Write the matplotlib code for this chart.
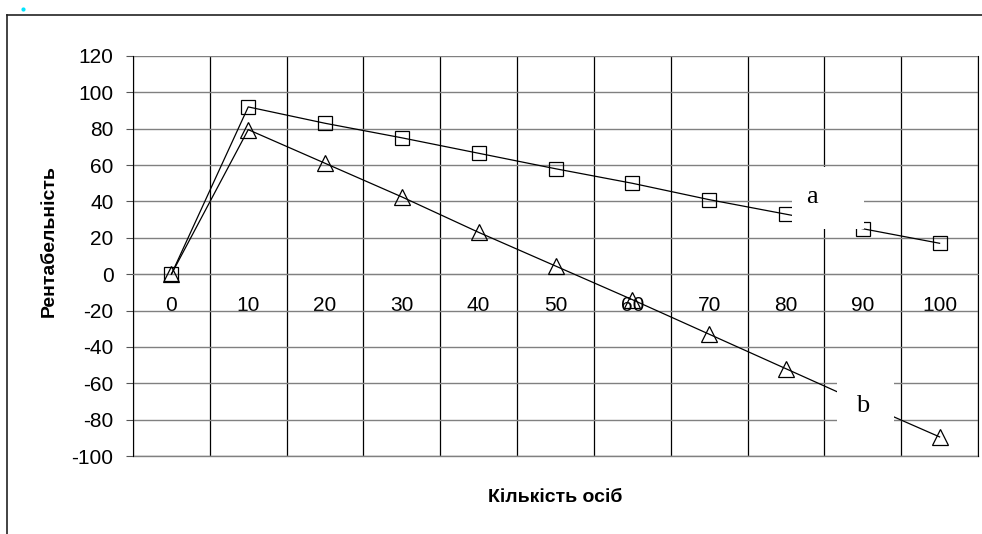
import matplotlib.pyplot as plt
from matplotlib.patches import Rectangle
from matplotlib.lines import Line2D

plt.rcParams['font.family'] = ['Liberation Sans', 'DejaVu Sans']

# data
people = [0, 10, 20, 30, 40, 50, 60, 70, 80, 90, 100]
series_a = [0, 92, 83, 75, 66.5, 58, 50, 41, 33, 25, 17]
series_b = [0, 79.5, 61, 42.5, 23, 4.5, -14, -33, -52, -71, -89.5]
y_ticks = [-100, -80, -60, -40, -20, 0, 20, 40, 60, 80, 100, 120]

W, H = 982, 534
fig = plt.figure(figsize=(W / 100, H / 100), dpi=100)
ax = fig.add_axes([133 / W, 78 / H, 845 / W, 400 / H])

# x axis crosses at 0 (set before ticks, it resets them)
ax.spines['bottom'].set_position(('data', 0))
ax.spines['bottom'].set_color('#808080')
ax.spines['top'].set_visible(False)
ax.spines['left'].set_color('black')
ax.spines['right'].set_color('black')

pos = list(range(len(people)))
ax.plot(pos, series_a, color='black', lw=0.9, marker='s', ms=10,
        mfc='none', mec='black', mew=0.9, zorder=3)
ax.plot(pos, series_b, color='black', lw=0.9, marker='^', ms=11,
        mfc='none', mec='black', mew=0.9, zorder=3)

ax.set_xlim(-0.5, len(people) - 0.5)
ax.set_ylim(-100, 120)

# y axis
ax.set_yticks(y_ticks)
ax.set_yticklabels([str(v) for v in y_ticks])
ax.tick_params(axis='y', length=5, width=0.8, pad=9, color='#555555', labelsize=15)
ax.yaxis.grid(True, color='#808080', lw=1.0)
ax.axhline(-100, color='#808080', lw=1.0, clip_on=False, zorder=1)

# x axis
ax.set_xticks(pos)
ax.set_xticklabels([str(p) for p in people])
ax.set_xticks([p - 0.5 for p in range(len(people) + 1)], minor=True)
ax.tick_params(axis='x', which='both', length=0, pad=16, labelsize=15)
ax.xaxis.grid(True, which='minor', color='black', lw=0.9)
ax.xaxis.grid(False, which='major')
ax.set_axisbelow(True)
for lbl in ax.get_xticklabels():
    lbl.set_zorder(5)

# series labels on white boxes
ax.add_patch(Rectangle((0.780, 0.568), 0.085, 0.155, transform=ax.transAxes,
                       facecolor='white', edgecolor='none', zorder=4))
ax.text(0.8035, 0.647, 'a', transform=ax.transAxes, ha='center', va='center',
        fontsize=19, family='Liberation Serif', zorder=5)
ax.add_patch(Rectangle((0.833, 0.04), 0.0675, 0.17, transform=ax.transAxes,
                       facecolor='white', edgecolor='none', zorder=4))
ax.text(0.8635, 0.125, 'b', transform=ax.transAxes, ha='center', va='center',
        fontsize=19, family='Liberation Serif', zorder=5)

fig.text(555 / W, 1 - 502 / H, 'Кількість осіб', ha='center', va='baseline',
         fontsize=14, fontweight='bold')
fig.text(49 / W, 1 - 241 / H, 'Рентабельність', ha='center', va='center',
         rotation=90, fontsize=14, fontweight='bold')

# chart area border (partly visible) and stray dot
fig.add_artist(Line2D([7 / W, 1], [1 - 15 / H, 1 - 15 / H], color='#222222', lw=1.2))
fig.add_artist(Line2D([7 / W, 7 / W], [0, 1 - 15 / H], color='#222222', lw=1.2))
fig.add_artist(Line2D([23 / W], [1 - 9 / H], marker='o', ms=2, color='#00e5ff', lw=0))

fig.savefig('out.png', dpi=100)
